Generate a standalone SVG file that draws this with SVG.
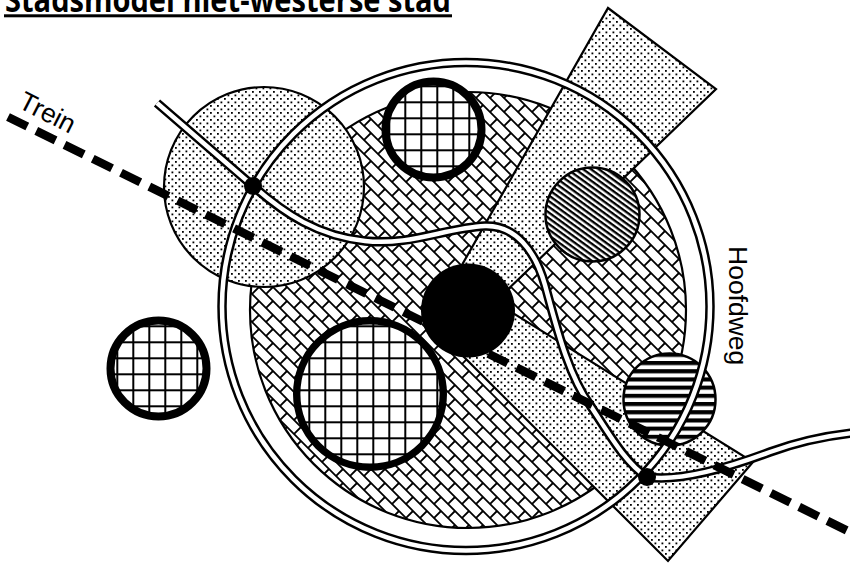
<svg xmlns="http://www.w3.org/2000/svg" width="850" height="563" viewBox="0 0 850 563">
<defs>
<style>
.ol{stroke:#000;stroke-width:2.2}
.road-b{fill:none;stroke:#000;stroke-width:9.5}
.road-w{fill:none;stroke:#fff;stroke-width:4.5}
.lbl{font-family:"Liberation Sans",Arial,sans-serif;font-size:26.5px;fill:#000}
</style>
<pattern id="brick" width="14" height="14" patternUnits="userSpaceOnUse">
<rect width="14" height="14" fill="#fff"/>
<path d="M-2,-2 L16,16 M-2,12 L2,16 M12,-2 L16,2 M7,7 L0,14" stroke="#000" stroke-width="1.8" fill="none"/>
</pattern>
<pattern id="dots" width="7" height="7" patternUnits="userSpaceOnUse">
<rect width="7" height="7" fill="#fff"/>
<rect x="0" y="0" width="1.8" height="1.8" fill="#000"/>
<rect x="3.5" y="3.5" width="1.8" height="1.8" fill="#000"/>
</pattern>
<pattern id="grid" x="4.3" y="5.3" width="16" height="16" patternUnits="userSpaceOnUse">
<rect width="16" height="16" fill="#fff"/>
<rect x="0" y="0" width="2" height="16" fill="#000"/>
<rect x="0" y="0" width="16" height="2" fill="#000"/>
</pattern>
<pattern id="diag" width="10" height="4.6" patternUnits="userSpaceOnUse" patternTransform="rotate(36)">
<rect width="10" height="4.6" fill="#fff"/>
<rect width="10" height="2.3" fill="#000"/>
</pattern>
<pattern id="hstripe" y="361" width="10" height="8.2" patternUnits="userSpaceOnUse">
<rect width="10" height="8.2" fill="#fff"/>
<rect width="10" height="4.1" fill="#000"/>
</pattern>
</defs>
<rect width="850" height="563" fill="#fff"/>

<g id="title">
<text x="5" y="12" font-family="'Open Sans','Liberation Sans',sans-serif" font-weight="700" font-size="34" textLength="446" lengthAdjust="spacingAndGlyphs" fill="#000">Stadsmodel niet-westerse stad</text>
<rect x="4" y="14.3" width="448" height="3" fill="#000"/>
</g>

<g id="woonwijken">
<circle cx="468" cy="310" r="218" fill="url(#brick)" class="ol"/>
</g>
<g id="voorstad-links">
<circle cx="264" cy="187" r="100" fill="url(#dots)" class="ol"/>
</g>
<g id="sector-boven">
<polygon points="608,8 716,89 500,297 450,286" fill="url(#dots)" class="ol"/>
</g>
<g id="sector-onder">
<polygon points="500,305 753,462 668,561 440,333" fill="url(#dots)" class="ol"/>
</g>
<g id="krottenwijk-boven">
<circle cx="433.5" cy="129.5" r="48" fill="url(#grid)" stroke="#000" stroke-width="8"/>
</g>
<g id="krottenwijk-links">
<circle cx="158.5" cy="368.5" r="48" fill="url(#grid)" stroke="#000" stroke-width="8"/>
</g>
<g id="krottenwijk-groot">
<circle cx="370" cy="394" r="73.3" fill="url(#grid)" stroke="#000" stroke-width="7.4"/>
</g>
<g id="wijk-diagonaal">
<circle cx="592.5" cy="214.5" r="47" fill="url(#diag)" stroke="#000" stroke-width="2.5"/>
</g>
<g id="wijk-horizontaal">
<circle cx="669.5" cy="399.5" r="46" fill="url(#hstripe)" stroke="#000" stroke-width="2.5"/>
</g>
<g id="centrum">
<circle cx="468" cy="310.5" r="47" fill="#000"/>
</g>

<g id="connectors">
<circle cx="466" cy="306.5" r="244" class="road-b"/>
<circle cx="466" cy="306.5" r="244" class="road-w"/>
<path id="weg" d="M157,103 L253,186 C285,214 318,236 365,241 C410,246 445,228 485,226 C515,225 535,250 545,285 C556,325 568,375 590,405 C608,432 625,463 647,477 C680,482 730,467 770,452 C800,441 825,436 852,433" class="road-b"/>
<path d="M157,103 L253,186 C285,214 318,236 365,241 C410,246 445,228 485,226 C515,225 535,250 545,285 C556,325 568,375 590,405 C608,432 625,463 647,477 C680,482 730,467 770,452 C800,441 825,436 852,433" class="road-w"/>
<line id="trein" x1="8" y1="117" x2="852" y2="533" stroke="#000" stroke-width="8.5" stroke-dasharray="21.5 10"/>
</g>

<g id="knoop-1"><circle cx="253" cy="186" r="9" fill="#000"/></g>
<g id="knoop-2"><circle cx="647" cy="477" r="9" fill="#000"/></g>

<g id="label-trein"><text class="lbl" transform="translate(17,107) rotate(27)">Trein</text></g>
<g id="label-hoofdweg"><text class="lbl" transform="translate(729,246) rotate(90)">Hoofdweg</text></g>
</svg>
